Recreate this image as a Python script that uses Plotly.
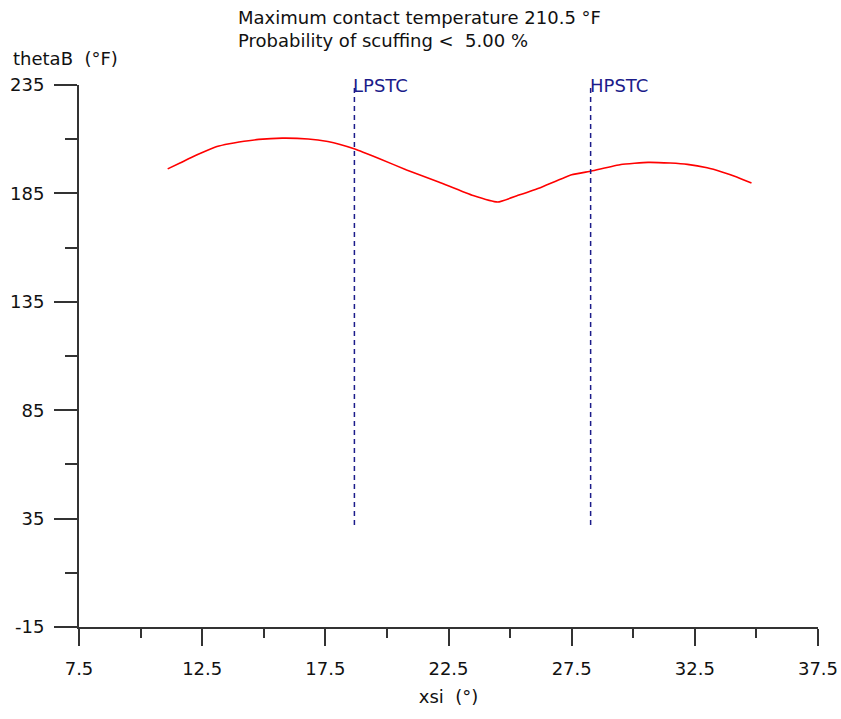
import plotly.graph_objects as go

# Data
xsi = [11.1, 11.6, 12.1, 12.6, 13.1, 13.6, 14.0, 14.8, 15.75, 16.8, 17.6, 18.1, 18.7, 19.7, 20.8,
       22.1, 23.5, 24.5, 25.3, 26.2, 27.5, 28.3, 29.5, 30.6, 31.5, 32.2, 33.0, 33.6, 34.2, 34.8]
thetaB = [196.3, 199.0, 201.8, 204.3, 206.6, 207.9, 208.7, 209.9, 210.5, 210.1, 208.9, 207.6, 205.5, 201.0, 195.8,
          190.3, 184.0, 181.0, 184.0, 187.5, 193.6, 195.3, 198.3, 199.3, 199.0, 198.4, 196.8, 194.9, 192.6, 189.8]
marker_names = ["LPSTC", "HPSTC"]
marker_x = [18.68, 28.27]
marker_y = [32, 235]
y_tickvals = [-15, 35, 85, 135, 185, 235]
y_ticktext = ["-15", "35", "85", "135", "185", "235"]
title_lines = ["Maximum contact temperature 210.5 °F", "Probability of scuffing <  5.00 %"]
x_title = "xsi  (°)"
y_title = "thetaB  (°F)"

FONT = "DejaVu Sans"
FS = 18
NAVY = "#1c1c8a"
AX = "#333333"
TXT = "#111111"

L, R, T, B = 79, 23, 85, 92
PW = 841 - L - R

fig = go.Figure()
fig.add_trace(go.Scatter(x=xsi, y=thetaB, mode="lines",
                         line=dict(color="#ff0000", width=1.6, shape="spline", smoothing=0.4),
                         showlegend=False, hoverinfo="skip"))
for name, mx in zip(marker_names, marker_x):
    fig.add_trace(go.Scatter(x=[mx, mx], y=marker_y, mode="lines",
                             line=dict(color=NAVY, width=1.5, dash="5px,4px"),
                             showlegend=False, hoverinfo="skip"))
    fig.add_annotation(x=mx, y=marker_y[1], text=name, showarrow=False,
                       xanchor="left", yanchor="middle", xshift=-3,
                       font=dict(family=FONT, size=FS, color=NAVY))

fig.add_annotation(xref="paper", yref="paper", x=(236 - L) / PW, y=1,
                   yshift=T - 5, xanchor="left", yanchor="top", align="left",
                   text="<br>".join(title_lines), showarrow=False,
                   font=dict(family=FONT, size=FS, color=TXT))
fig.add_annotation(xref="paper", yref="paper", x=0, y=1, xshift=-(L - 11), yshift=T - 58,
                   xanchor="left", yanchor="middle", text=y_title, showarrow=False,
                   font=dict(family=FONT, size=FS, color=TXT))

fig.update_layout(
    width=841, height=719,
    margin=dict(l=L, r=R, t=T, b=B, autoexpand=False),
    paper_bgcolor="white", plot_bgcolor="white",
    font=dict(family=FONT, size=FS, color=TXT),
    xaxis=dict(range=[7.5, 37.5], tick0=7.5, dtick=5, showgrid=False, zeroline=False,
               automargin=False,
               showline=True, linecolor=AX, linewidth=2, ticks="outside", ticklen=17,
               tickwidth=2, tickcolor=AX, ticklabelstandoff=7,
               minor=dict(dtick=2.5, tick0=7.5, ticks="outside", ticklen=9,
                          tickwidth=2, tickcolor=AX, showgrid=False),
               title=dict(text=x_title, standoff=13, font=dict(family=FONT, size=FS))),
    yaxis=dict(range=[-15, 235], tickmode="array", tickvals=y_tickvals, ticktext=y_ticktext,
               showgrid=False, zeroline=False, automargin=False,
               showline=True, linecolor=AX, linewidth=2, ticks="outside", ticklen=23,
               tickwidth=2, tickcolor=AX, ticklabelstandoff=6,
               minor=dict(dtick=25, tick0=-15, ticks="outside", ticklen=12,
                          tickwidth=2, tickcolor=AX, showgrid=False)),
)

fig.write_html("out.html", config={"displayModeBar": False},
               post_script="document.body.style.margin='0';document.body.style.overflow='hidden';")
